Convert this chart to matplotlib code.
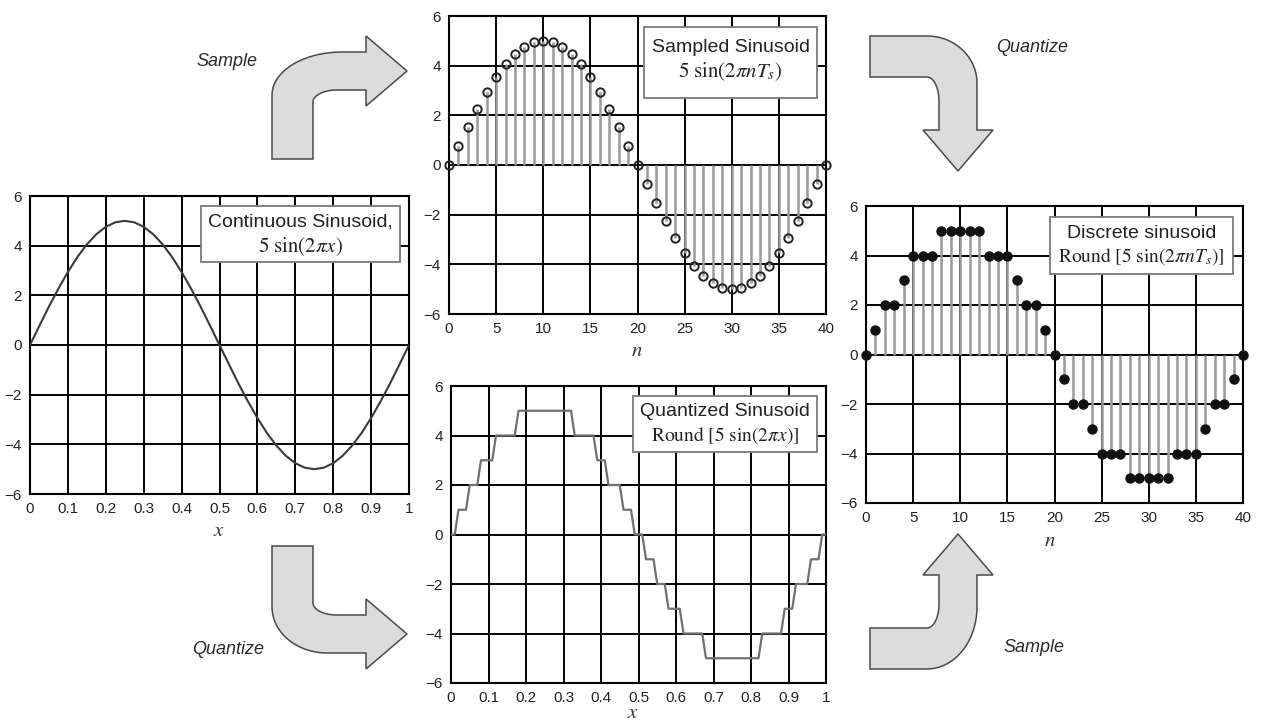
import matplotlib
matplotlib.use("Agg")
import matplotlib.pyplot as plt
from matplotlib.path import Path
from matplotlib.patches import PathPatch, Rectangle
from matplotlib.transforms import Affine2D
import numpy as np

# ---------------- data ----------------
n_idx = list(range(41))
Ts = 0.025
sampled = [0.00, 0.78, 1.55, 2.27, 2.94, 3.54, 4.05, 4.46, 4.76, 4.94, 5.00,
           4.94, 4.76, 4.46, 4.05, 3.54, 2.94, 2.27, 1.55, 0.78, 0.00,
           -0.78, -1.55, -2.27, -2.94, -3.54, -4.05, -4.46, -4.76, -4.94, -5.00,
           -4.94, -4.76, -4.46, -4.05, -3.54, -2.94, -2.27, -1.55, -0.78, 0.00]
discrete = [0, 1, 2, 2, 3, 4, 4, 4, 5, 5, 5, 5, 5, 4, 4, 4, 3, 2, 2, 1, 0,
            -1, -2, -2, -3, -4, -4, -4, -5, -5, -5, -5, -5, -4, -4, -4, -3, -2, -2, -1, 0]
quant_levels = [0, 1, 2, 3, 4, 5, 4, 3, 2, 1, 0, -1, -2, -3, -4, -5, -4, -3, -2, -1, 0]
quant_start = [0.00, 0.02, 0.05, 0.08, 0.12, 0.18, 0.33, 0.39, 0.42, 0.46, 0.49,
               0.52, 0.55, 0.58, 0.62, 0.68, 0.83, 0.89, 0.92, 0.96, 0.99]
quant_end = [0.01, 0.04, 0.07, 0.11, 0.17, 0.32, 0.38, 0.41, 0.45, 0.48, 0.51,
             0.54, 0.57, 0.61, 0.67, 0.82, 0.88, 0.91, 0.95, 0.98, 1.00]
x_ticks_cont = [0, 0.1, 0.2, 0.3, 0.4, 0.5, 0.6, 0.7, 0.8, 0.9, 1]
x_labels_cont = ["0", "0.1", "0.2", "0.3", "0.4", "0.5", "0.6", "0.7", "0.8", "0.9", "1"]
x_ticks_n = [0, 5, 10, 15, 20, 25, 30, 35, 40]
y_ticks = [-6, -4, -2, 0, 2, 4, 6]

plt.rcParams["mathtext.fontset"] = "stix"
plt.rcParams["font.family"] = ["Liberation Sans", "DejaVu Sans"]

W, H = 1262, 722
fig = plt.figure(figsize=(W / 100, H / 100), dpi=100)
PX = Affine2D().scale(1 / W, -1 / H).translate(0, 1) + fig.transFigure


def rect(x0, y0, x1, y1):
    return [x0 / W, 1 - y1 / H, (x1 - x0) / W, (y1 - y0) / H]


def style(ax, xt, xl, xlim):
    ax.set_xlim(*xlim)
    ax.set_ylim(-6, 6)
    ax.set_xticks(xt)
    ax.set_xticklabels(xl)
    ax.set_yticks(y_ticks)
    ax.set_yticklabels([str(v).replace("-", "\u2212") for v in y_ticks])
    ax.grid(True, color="black", lw=1.4)
    ax.set_axisbelow(True)
    ax.tick_params(length=0, labelsize=11, colors="#222222", pad=6)
    for s in ax.spines.values():
        s.set_linewidth(1.5)
        s.set_color("black")


def textbox(x0, y0, x1, y1, line1, line2, y_l1, y_l2, fs2=15):
    fig.add_artist(Rectangle((x0, y0), x1 - x0, y1 - y0, transform=PX,
                             facecolor="white", edgecolor="#7a7a7a", lw=1.3, zorder=5))
    cx = (x0 + x1) / 2
    fig.text(cx, y_l1, line1, transform=PX, ha="center", va="center",
             fontsize=14, color="#222222", zorder=6)
    fig.text(cx, y_l2, line2, transform=PX, ha="center", va="center",
             fontsize=fs2, color="#222222", zorder=6)


# ---------- Panel 1: continuous ----------
ax1 = fig.add_axes(rect(30, 196, 409, 494))
ax1.plot([n * Ts for n in n_idx], sampled, color="#3a3a3a", lw=1.5, zorder=3)
style(ax1, x_ticks_cont, x_labels_cont, (0, 1))
textbox(201, 206, 400, 262, "Continuous Sinusoid,", r"$5\ \sin(2\pi x)$", 222, 247)
fig.text(219, 530, r"$x$", transform=PX, ha="center", va="center", fontsize=15, color="#333333")

# ---------- Panel 2: sampled ----------
ax2 = fig.add_axes(rect(449, 16, 826, 314))
ax2.vlines(n_idx, 0, sampled, color="#9a9a9a", lw=1.8, zorder=3)
ax2.plot(n_idx, sampled, "o", ms=6, mfc="none", mec="#222222", mew=1.4, zorder=4, clip_on=False)
style(ax2, x_ticks_n, [str(v) for v in x_ticks_n], (0, 40))
textbox(644, 27, 817, 98, "Sampled Sinusoid", r"$5\ \sin(2\pi nT_s)$", 47, 72)
fig.text(637, 350, r"$n$", transform=PX, ha="center", va="center", fontsize=15, color="#333333")

# ---------- Panel 3: discrete ----------
ax3 = fig.add_axes(rect(866, 206, 1243, 503))
ax3.vlines(n_idx, 0, discrete, color="#9a9a9a", lw=1.8, zorder=3)
ax3.plot(n_idx, discrete, "o", ms=6.5, mfc="#111111", mec="#111111", zorder=4, clip_on=False)
style(ax3, x_ticks_n, [str(v) for v in x_ticks_n], (0, 40))
textbox(1050, 217, 1233, 274, "Discrete sinusoid", r"$\mathrm{Round}\ [5\ \sin(2\pi nT_s)]$", 233, 257, fs2=14)
fig.text(1050, 540, r"$n$", transform=PX, ha="center", va="center", fontsize=15, color="#333333")

# ---------- Panel 4: quantized ----------
ax4 = fig.add_axes(rect(451, 386, 826, 683))
qx, qy = [], []
for s, e, lv in zip(quant_start, quant_end, quant_levels):
    qx += [s, e]
    qy += [lv, lv]
ax4.plot(qx, qy, color="#707070", lw=1.6, zorder=3)
style(ax4, x_ticks_cont, x_labels_cont, (0, 1))
textbox(633, 396, 817, 452, "Quantized Sinusoid", r"$\mathrm{Round}\ [5\ \sin(2\pi x)]$", 412, 436, fs2=14)
fig.text(633, 713, r"$x$", transform=PX, ha="center", va="center", fontsize=15, color="#333333")


# ---------- bent arrows ----------
def bent_arrow(origin, pdir, qdir, rp, rq, L=107, sw=41, shw=38, hb=94,
               hlo=-16, hhi=54, tip=135, tq=19, rpi=24, rqi=12):
    pts = [(0, L), (0, rq)]
    for t in np.linspace(np.pi, 1.5 * np.pi, 20)[1:]:
        pts.append((rp + rp * np.cos(t), rq + rq * np.sin(t)))
    pts += [(hb, 0), (hb, hlo), (tip, tq), (hb, hhi), (hb, shw), (sw + rpi, shw)]
    for t in np.linspace(1.5 * np.pi, np.pi, 20)[1:]:
        pts.append((sw + rpi + rpi * np.cos(t), shw + rqi + rqi * np.sin(t)))
    pts += [(sw, L), (0, L)]
    ox, oy = origin
    xy = [(ox + p * pdir[0] + q * qdir[0], oy + p * pdir[1] + q * qdir[1]) for p, q in pts]
    path = Path(xy, closed=True)
    fig.add_artist(PathPatch(path, transform=PX, facecolor="#dcdcdc",
                             edgecolor="#4a4a4a", lw=1.1, zorder=2))


bent_arrow((272, 52), (1, 0), (0, 1), 70, 43)
bent_arrow((977, 36), (0, 1), (-1, 0), 47, 50)
bent_arrow((272, 653), (1, 0), (0, -1), 55, 46)
bent_arrow((977, 669), (0, -1), (-1, 0), 62, 50)

lab = dict(transform=PX, ha="center", va="center", fontsize=13, style="italic", color="#2a2a2a")
fig.text(227, 61, "Sample", **lab)
fig.text(1032, 47, "Quantize", **lab)
fig.text(228, 650, "Quantize", **lab)
fig.text(1034, 647, "Sample", **lab)

fig.savefig("out.png", dpi=100, facecolor="white")
